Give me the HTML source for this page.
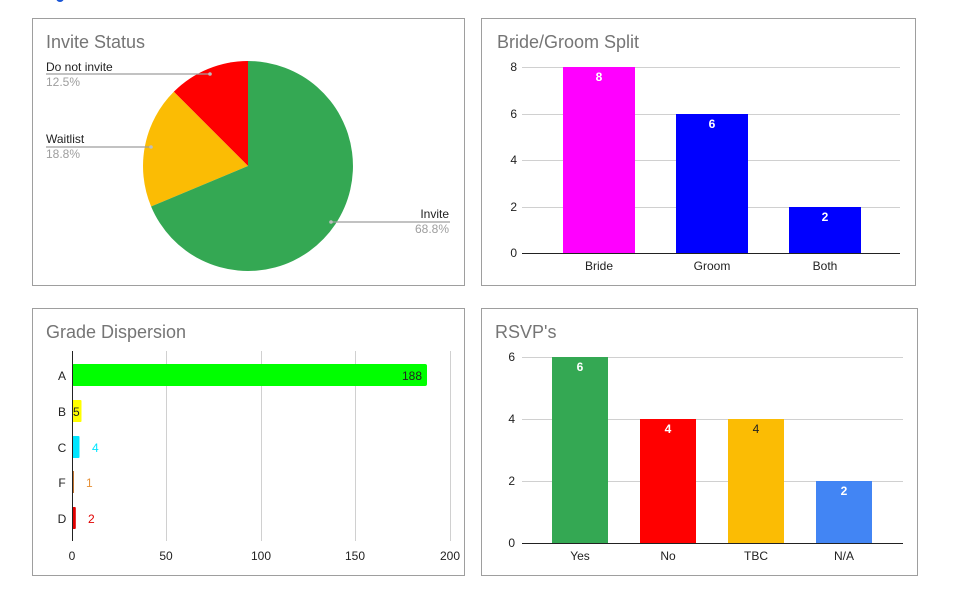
<!DOCTYPE html>
<html><head><style>body{margin:0;background:#fff}svg{display:block;font-family:"Liberation Sans",Arial,sans-serif}</style></head><body>
<svg width="955" height="601" viewBox="0 0 955 601" xmlns="http://www.w3.org/2000/svg">
<circle cx="60" cy="-2" r="4" fill="#1a56d6"/>
<g fill="none" stroke="#9e9e9e" stroke-width="1">
<rect x="32.5" y="18.5" width="432" height="267"/>
<rect x="481.5" y="18.5" width="434" height="267"/>
<rect x="32.5" y="308.5" width="432" height="267"/>
<rect x="481.5" y="308.5" width="436" height="267"/>
</g>
<g font-size="18" fill="#757575">
<text x="46" y="48">Invite Status</text>
<text x="497" y="48">Bride/Groom Split</text>
<text x="46" y="338">Grade Dispersion</text>
<text x="495" y="338">RSVP's</text>
</g>
<path d="M248,166 L248,61 A105,105 0 0 0 173.8,91.8 Z" fill="#ff0000"/>
<path d="M248,166 L173.8,91.8 A105,105 0 0 0 151.1,206.5 Z" fill="#fbbc04"/>
<path d="M248,166 L151.1,206.5 A105,105 0 1 0 248,61 Z" fill="#34a853"/>
<g stroke="#9e9e9e" stroke-width="1.2">
<line x1="46" y1="74" x2="210" y2="74"/>
<line x1="46" y1="147" x2="151" y2="147"/>
<line x1="331" y1="222" x2="450" y2="222"/>
</g>
<g fill="#bdbdbd"><circle cx="210" cy="74" r="1.8"/><circle cx="151" cy="147" r="1.8"/><circle cx="331" cy="222" r="1.8"/></g>
<g font-size="12">
<text x="46" y="71" fill="#222">Do not invite</text><text x="46" y="86" fill="#9e9e9e">12.5%</text>
<text x="46" y="143" fill="#222">Waitlist</text><text x="46" y="158" fill="#9e9e9e">18.8%</text>
<text x="449" y="218" fill="#222" text-anchor="end">Invite</text><text x="449" y="233" fill="#9e9e9e" text-anchor="end">68.8%</text>
</g>
<g stroke="#d0d0d0"><line x1="522" y1="67.5" x2="900" y2="67.5"/><line x1="522" y1="114.5" x2="900" y2="114.5"/><line x1="522" y1="160.5" x2="900" y2="160.5"/><line x1="522" y1="207.5" x2="900" y2="207.5"/></g>
<rect x="563" y="67" width="72" height="186" fill="#ff00ff"/>
<rect x="676" y="114" width="72" height="139" fill="#0000ff"/>
<rect x="789" y="207" width="72" height="46" fill="#0000ff"/>
<line x1="522" y1="253.5" x2="900" y2="253.5" stroke="#222"/>
<g font-size="12" fill="#222" text-anchor="end"><text x="517" y="71">8</text><text x="517" y="118">6</text><text x="517" y="164">4</text><text x="517" y="211">2</text><text x="517" y="257">0</text></g>
<g font-size="12" fill="#fff" text-anchor="middle" font-weight="bold"><text x="599" y="81">8</text><text x="712" y="128">6</text><text x="825" y="221">2</text></g>
<g font-size="12" fill="#222" text-anchor="middle"><text x="599" y="270">Bride</text><text x="712" y="270">Groom</text><text x="825" y="270">Both</text></g>
<g stroke="#d0d0d0"><line x1="166.5" y1="351" x2="166.5" y2="541"/><line x1="261.5" y1="351" x2="261.5" y2="541"/><line x1="355.5" y1="351" x2="355.5" y2="541"/><line x1="450.5" y1="351" x2="450.5" y2="541"/></g>
<rect x="72" y="364" width="355" height="22" rx="2" fill="#00ff00"/>
<rect x="72" y="400" width="9.5" height="22" rx="1" fill="#ffff00"/>
<rect x="72" y="436" width="7.5" height="22" rx="1" fill="#00e5ff"/>
<rect x="72" y="471" width="1.9" height="22" fill="#b8641a"/>
<rect x="72" y="507" width="3.8" height="22" rx="1" fill="#e00000"/>
<line x1="72.5" y1="351" x2="72.5" y2="541" stroke="#222"/>
<g font-size="12" fill="#222" text-anchor="middle"><text x="62" y="380">A</text><text x="62" y="416">B</text><text x="62" y="452">C</text><text x="62" y="487">F</text><text x="62" y="523">D</text>
<text x="72" y="560">0</text><text x="166" y="560">50</text><text x="261" y="560">100</text><text x="355" y="560">150</text><text x="450" y="560">200</text></g>
<g font-size="12"><text x="422" y="380" text-anchor="end" fill="#222">188</text><text x="73" y="416" fill="#222">5</text><text x="92" y="452" fill="#00e5ff">4</text><text x="86" y="487" fill="#e69138">1</text><text x="88" y="523" fill="#e00000">2</text></g>
<g stroke="#d0d0d0"><line x1="522" y1="357.5" x2="903" y2="357.5"/><line x1="522" y1="419.5" x2="903" y2="419.5"/><line x1="522" y1="481.5" x2="903" y2="481.5"/></g>
<rect x="552" y="357" width="56" height="186" fill="#34a853"/>
<rect x="640" y="419" width="56" height="124" fill="#ff0000"/>
<rect x="728" y="419" width="56" height="124" fill="#fbbc04"/>
<rect x="816" y="481" width="56" height="62" fill="#4285f4"/>
<line x1="522" y1="543.5" x2="903" y2="543.5" stroke="#222"/>
<g font-size="12" fill="#222" text-anchor="end"><text x="515" y="361">6</text><text x="515" y="423">4</text><text x="515" y="485">2</text><text x="515" y="547">0</text></g>
<g font-size="12" fill="#fff" text-anchor="middle" font-weight="bold"><text x="580" y="371">6</text><text x="668" y="433">4</text><text x="756" y="433" fill="#222" font-weight="normal">4</text><text x="844" y="495">2</text></g>
<g font-size="12" fill="#222" text-anchor="middle"><text x="580" y="560">Yes</text><text x="668" y="560">No</text><text x="756" y="560">TBC</text><text x="844" y="560">N/A</text></g>
</svg>
</body></html>
